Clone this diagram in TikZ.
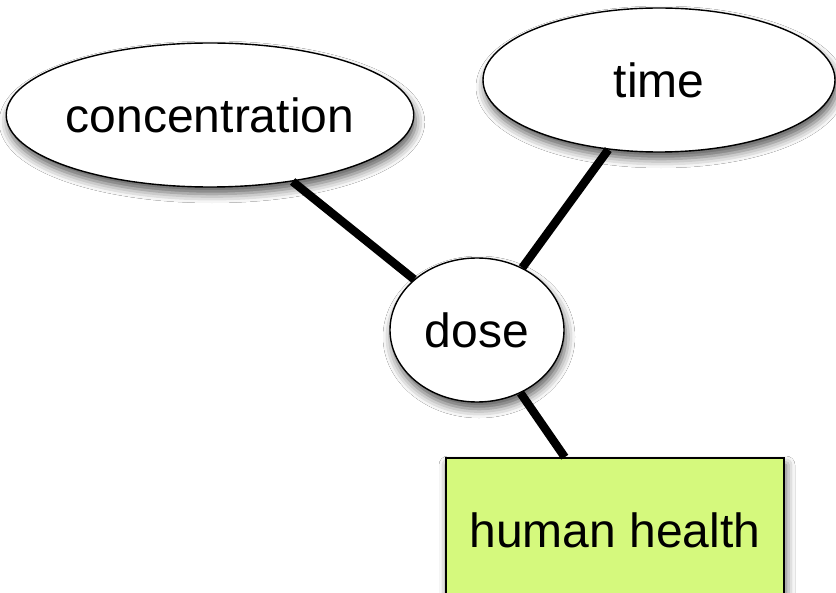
\documentclass[tikz,border=0pt]{standalone}
\usepackage{fontspec}
\setmainfont{Liberation Sans}
\usetikzlibrary{shapes.geometric,shadows.blur}
\definecolor{healthgreen}{HTML}{D5F97D}
\tikzset{
  lbl/.style={font=\fontsize{24}{28}\selectfont, text=black, inner sep=0pt},
  shade/.style={blur shadow={shadow xshift=1pt, shadow yshift=-3.5pt, shadow blur radius=4.5pt, shadow opacity=65}},
  ovalbox/.style={lbl, ellipse, draw=black, line width=0.7pt, fill=white, shade},
  rectbox/.style={lbl, rectangle, draw=black, line width=0.8pt, fill=healthgreen, shade},
  link/.style={line width=4.2pt, black}
}
\begin{document}
\begin{tikzpicture}[x=0.5pt,y=-0.5pt]
\useasboundingbox[fill=white] (0,0) rectangle (836,593);
\clip (0,0) rectangle (836,593);
\node[ovalbox, minimum width=200pt, minimum height=72pt] (conc) at (210,115) {concentration};
\node[ovalbox, minimum width=176pt, minimum height=72pt] (time) at (659,80) {time};
\node[ovalbox, minimum width=87pt, minimum height=72pt] (dose) at (477,330) {dose};
\node[rectbox, minimum width=169pt, minimum height=72pt] (health) at (615,530) {human health};
\draw[link] (conc) -- (dose);
\draw[link] (time) -- (dose);
\draw[link] (dose) -- (health);
\end{tikzpicture}
\end{document}
